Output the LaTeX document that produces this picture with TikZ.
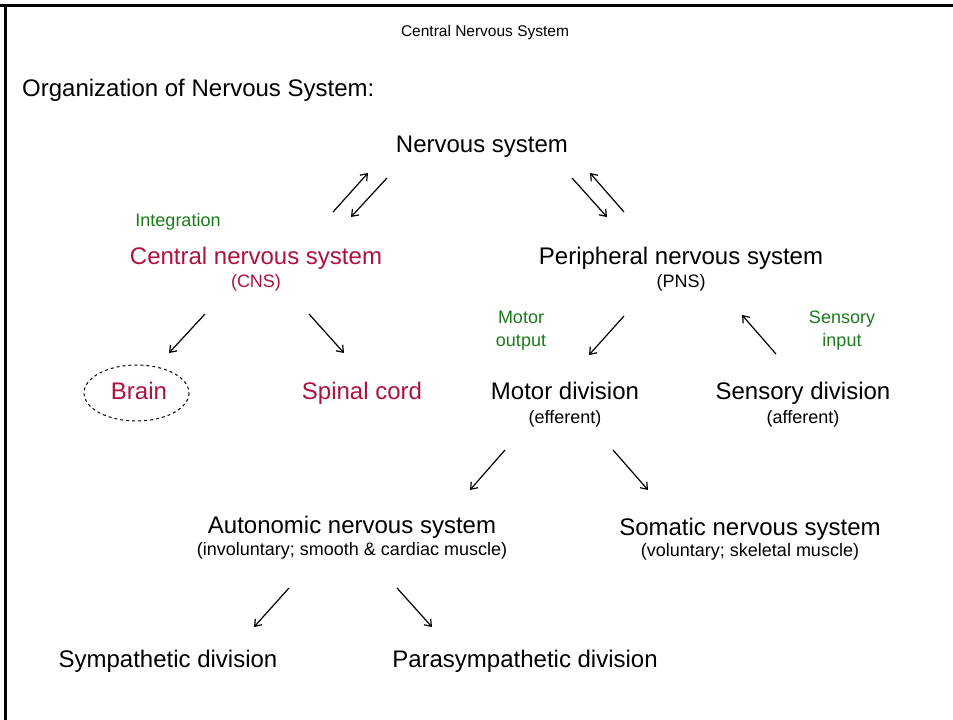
\documentclass[tikz,border=0pt]{standalone}
\usepackage{fontspec}
\setmainfont{Liberation Sans}
\usetikzlibrary{arrows.meta}
\definecolor{cnsred}{RGB}{176,16,60}
\definecolor{labgreen}{RGB}{26,122,26}
\tikzset{
  big/.style={inner sep=0pt, anchor=base, font=\fontsize{24}{28}\selectfont},
  small/.style={inner sep=0pt, anchor=base, font=\fontsize{18}{21}\selectfont},
  arr/.style={-{Straight Barb[length=6pt,width=9pt]}, line width=1.2pt},
}
\begin{document}
\begin{tikzpicture}[x=1pt, y=-1pt]
\useasboundingbox (0,0) rectangle (953,720);
% frame
\draw [line width=3pt] (0,5) -- (953,5);
\draw [line width=3pt] (5,5) -- (5,720);

\node [inner sep=0pt, anchor=base, font=\fontsize{15.5}{18}\selectfont] (title) at (485,36) {Central Nervous System};
\node [big, anchor=base west] (org) at (22,96) {Organization of Nervous System:};

\node [big] (ns) at (482,152) {Nervous system};

\node [small, text=labgreen] (integ) at (178,226.5) {Integration};
\node [big, text=cnsred] (cns) at (256,264) {Central nervous system};
\node [small, text=cnsred] (cnsab) at (256,287.5) {(CNS)};
\node [big] (pns) at (681,264) {Peripheral nervous system};
\node [small] (pnsab) at (681,287.5) {(PNS)};

\node [big, text=cnsred] (brain) at (139,399) {Brain};
\draw [dashed, line width=1pt] (136.5,393) ellipse [x radius=52.5, y radius=28];
\node [big, text=cnsred] (spinal) at (362,399) {Spinal cord};

\node [small, text=labgreen] (motlab) at (521,323.5) {Motor};
\node [small, text=labgreen] (motlab2) at (521,346.5) {output};
\node [small, text=labgreen] (senlab) at (842,323.5) {Sensory};
\node [small, text=labgreen] (senlab2) at (842,346.5) {input};

\node [big] (motor) at (565,399) {Motor division};
\node [small] (motorsub) at (565,423) {(efferent)};
\node [big] (sensory) at (803,399) {Sensory division};
\node [small] (sensorysub) at (803,423) {(afferent)};

\node [big] (ans) at (352,533) {Autonomic nervous system};
\node [small] (anssub) at (352,555.5) {(involuntary; smooth \& cardiac muscle)};
\node [big] (sns) at (750,535) {Somatic nervous system};
\node [small] (snssub) at (750,556.5) {(voluntary; skeletal muscle)};

\node [big] (symp) at (168,667) {Sympathetic division};
\node [big] (para) at (525,667) {Parasympathetic division};

% arrow ends
\path (333,212) coordinate (a1) (368,173) coordinate (a2);
\path (387,178) coordinate (b1) (351,217) coordinate (b2);
\path (572,178) coordinate (c1) (607,217) coordinate (c2);
\path (624,212) coordinate (d1) (590,173) coordinate (d2);
\path (205,314) coordinate (e1) (169,353) coordinate (e2);
\path (309,314) coordinate (f1) (344,353) coordinate (f2);
\path (624,316) coordinate (g1) (589,355) coordinate (g2);
\path (776,354) coordinate (h1) (742,315) coordinate (h2);
\path (505,450) coordinate (i1) (470,490) coordinate (i2);
\path (613,450) coordinate (j1) (648,490) coordinate (j2);
\path (289,588) coordinate (k1) (254,627) coordinate (k2);
\path (397,588) coordinate (l1) (432,627) coordinate (l2);

\draw [arr] (a1) -- (a2);
\draw [arr] (b1) -- (b2);
\draw [arr] (c1) -- (c2);
\draw [arr] (d1) -- (d2);
\draw [arr] (e1) -- (e2);
\draw [arr] (f1) -- (f2);
\draw [arr] (g1) -- (g2);
\draw [arr] (h1) -- (h2);
\draw [arr] (i1) -- (i2);
\draw [arr] (j1) -- (j2);
\draw [arr] (k1) -- (k2);
\draw [arr] (l1) -- (l2);
\end{tikzpicture}
\end{document}
